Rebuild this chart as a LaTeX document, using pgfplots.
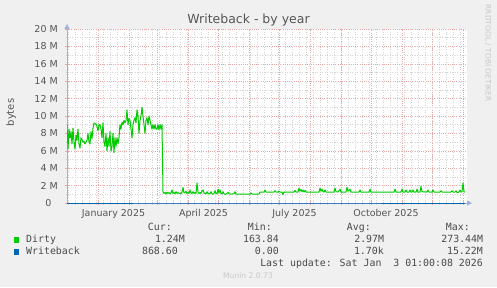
\documentclass[border=0pt]{standalone}
\usepackage{fontspec}
\setmainfont{DejaVu Sans}
\newfontfamily\mono{DejaVu Sans Mono}
\usepackage{pgfplots}
\pgfplotsset{compat=1.18}
\usetikzlibrary{arrows.meta}
\definecolor{bg}{HTML}{F0F0F0}
\definecolor{dirty}{HTML}{00CC00}
\definecolor{wb}{HTML}{0066B3}
\definecolor{mgrid}{HTML}{E8A8A8}
\definecolor{ngrid}{HTML}{D2D2D2}
\definecolor{axcol}{HTML}{A4ACE2}
\definecolor{txt}{HTML}{555555}
\definecolor{leg}{HTML}{4A4A4A}
\definecolor{faint}{HTML}{C8C8C8}
\begin{document}
\begin{tikzpicture}[x=1pt,y=1pt]
\fill[bg] (0,0) rectangle (497,287);
\path[use as bounding box] (0,0) rectangle (497,287);
\begin{axis}[
  at={(67pt,84pt)}, anchor=south west, scale only axis,
  width=400pt, height=174pt,
  xmin=-31, xmax=369, ymin=0, ymax=20,
  axis lines=left,
  axis line style={draw=axcol, line width=0.8pt, -{Triangle[length=5pt,width=5pt]}, shorten >=-5pt},
  axis background/.style={fill=white},
  xtick={0,31,59,90,120,151,181,212,243,273,304,334,365},
  xticklabels={},
  minor xtick={-30,-23,...,362},
  ytick={0,2,...,20}, minor ytick={1,3,...,19},
  yticklabels={0\kern6.5pt,2 M,4 M,6 M,8 M,10 M,12 M,14 M,16 M,18 M,20 M},
  grid=both,
  major grid style={draw=mgrid, line width=0.45pt, dash pattern=on 1pt off 1.2pt},
  minor grid style={draw=ngrid, line width=0.45pt, dash pattern=on 1pt off 1.5pt},
  tick align=center, major tick length=4pt, minor tick length=3pt,
  major tick style={draw=mgrid, line width=0.5pt},
  minor tick style={draw=ngrid, line width=0.5pt},
  ticklabel style={font=\fontsize{9.5}{11}\selectfont, text=txt},
  /pgf/number format/assume math mode=true,
  yticklabel style={anchor=east, inner sep=0pt, xshift=-7pt},
  xticklabel style={anchor=base, inner sep=0pt, yshift=-13pt},
  extra x ticks={15.5,105.5,196.5,288},
  extra x tick labels={January 2025,April 2025,July 2025,October 2025},
  extra x tick style={grid=none, major tick length=0pt},
]
\addplot[wb, line width=1pt] coordinates {(-31,0) (100,0) (200,0) (367,0)};
\addplot[dirty, line width=1pt, line join=round] coordinates {
(-31,9.0) (-30,6.2) (-29,8.5) (-28,7.5) (-27,8.2) (-26,6.8) (-25,8.6) (-24,7.0) (-23,6.2) (-22,7.8)
(-21,7.2) (-20,8.5) (-19,6.8) (-18,6.3) (-17,7.5) (-16,7.3) (-15,7.0) (-14,7.1) (-13,6.8) (-12,7.0)
(-11,7.2) (-10,8.0) (-9,7.0) (-8,6.8) (-7,8.2) (-6,7.4) (-5,8.6) (-4,9.2) (-3,9.1) (-2,9.1)
(-1,8.8) (0,8.3) (1,9.0) (2,9.0) (3,8.5) (4,7.5) (5,9.2) (6,7.0) (7,6.5) (8,8.0)
(9,6.0) (10,7.5) (11,6.5) (12,8.2) (13,6.0) (14,6.5) (15,8.0) (16,5.8) (17,7.5) (18,6.5)
(19,7.5) (20,6.8) (21,7.5) (22,9.0) (23,8.5) (24,9.3) (25,9.0) (26,9.5) (27,9.2) (28,9.5)
(29,10.7) (30,9.0) (31,9.7) (32,9.5) (33,8.5) (34,7.5) (35,9.0) (36,9.5) (37,9.8) (38,9.2)
(39,10.7) (40,10.0) (41,8.0) (42,9.5) (43,10.0) (44,11.0) (45,10.0) (46,9.0) (47,8.0) (48,9.5)
(49,9.8) (50,9.0) (51,10.0) (52,9.5) (53,9.0) (54,8.5) (55,9.0) (56,8.5) (57,9.0) (58,8.5)
(59,8.5) (60,9.0) (61,8.4) (62,9.0) (63,8.5) (64,9.0) (65,1.30)
(66,1.10) (67,1.20) (68,1.05) (69,1.25) (70,1.10) (71,1.20) (72,1.05) (73,1.15) (74,1.50) (75,1.10)
(76,1.20) (77,1.05) (78,1.30) (79,1.10) (80,1.20) (81,1.10) (82,1.15) (83,1.05) (84,1.25) (85,1.80)
(86,1.15) (87,1.20) (88,1.35) (89,1.10) (90,1.20) (91,1.10) (92,1.50) (93,1.15) (94,1.10) (95,1.30)
(96,1.10) (97,1.20) (98,1.10) (99,2.30) (100,1.25) (101,1.10) (102,1.20) (103,1.10) (104,1.40) (105,1.50)
(106,1.15) (107,1.10) (108,1.05) (109,1.30) (110,1.10) (111,1.05) (112,1.10) (113,1.30) (114,1.05) (115,1.00)
(116,1.10) (117,1.40) (118,1.10) (119,1.05) (120,1.60) (121,1.15) (122,1.50) (123,1.10) (124,1.05) (125,1.30)
(126,1.05) (127,1.00) (128,1.05) (130,1.20) (131,1.05) (133,1.03) (136,1.05) (137,1.30) (138,1.03)
(152,1.03) (153,1.15) (154,1.03) (161,1.03) (162,1.26)
(166,1.26) (167,1.50) (168,1.26) (176,1.26) (177,1.40) (178,1.26) (180,1.26) (181,1.35) (182,1.26)
(184,1.26) (185,0.95) (186,1.26) (196,1.26) (197,1.45) (198,1.26)
(200,1.26) (201,1.70) (202,1.35) (203,1.55) (204,1.30) (205,1.50) (206,1.26) (207,1.45) (208,1.26)
(221,1.26) (222,1.70) (223,1.35) (224,1.60) (225,1.30) (226,1.26) (227,1.50) (228,1.26)
(236,1.26) (237,1.70) (238,1.30) (240,1.26) (242,1.60) (243,1.26)
(248,1.26) (249,1.80) (250,1.35) (252,1.60) (253,1.26)
(261,1.26) (262,1.50) (263,1.26) (271,1.26) (272,1.60) (273,1.26)
(296,1.26) (297,1.60) (298,1.26) (303,1.26) (304,1.60) (305,1.26) (307,1.26) (308,1.50) (309,1.26)
(311,1.26) (312,1.50) (313,1.26) (314,1.26) (315,1.50) (316,1.26) (318,1.26) (319,1.60) (320,1.26)
(322,1.26) (323,1.90) (324,1.30) (329,1.26) (330,1.50) (331,1.26) (334,1.26) (335,1.50) (336,1.26)
(342,1.26) (343,1.40) (344,1.26) (353,1.26) (354,1.40) (355,1.26)
(357,1.26) (358,1.40) (359,1.20) (361,1.26) (362,1.50) (363,1.26)
(364,1.30) (365,2.30) (366,1.30) (367,1.24)
};
\end{axis}
% title and axis label
\node[text=txt, font=\fontsize{12.5}{15}\selectfont, anchor=base] at (248.5,263) {Writeback - by year};
\node[text=txt, font=\fontsize{10}{12}\selectfont, rotate=90, anchor=center] at (11,174.5) {bytes};
\node[text=faint, font=\fontsize{7.5}{9}\selectfont, rotate=-90, anchor=center] at (488,234) {RRDTOOL / TOBI OETIKER};
% legend
\fill[dirty] (14,44.3) rectangle (19.3,50.3);
\fill[wb] (14,32.3) rectangle (19.3,38.3);
\begin{scope}[every node/.style={text=leg, font=\mono\fontsize{9.9}{12}\selectfont, inner sep=0pt}]
\node[anchor=base west] at (26,44.3) {Dirty};
\node[anchor=base west] at (26,32.7) {Writeback};
\node[anchor=base east] at (172,56.3) {Cur:};
\node[anchor=base east] at (272,56.3) {Min:};
\node[anchor=base east] at (371,56.3) {Avg:};
\node[anchor=base east] at (470,56.3) {Max:};
\node[anchor=base east] at (185,44.3) {1.24M};
\node[anchor=base east] at (279,44.3) {163.84};
\node[anchor=base east] at (384.3,44.3) {2.97M};
\node[anchor=base east] at (483.3,44.3) {273.44M};
\node[anchor=base east] at (178,32.7) {868.60};
\node[anchor=base east] at (279,32.7) {0.00};
\node[anchor=base east] at (384,32.7) {1.70k};
\node[anchor=base east] at (483,32.7) {15.22M};
\node[anchor=base east] at (483,20.7) {Last update: Sat Jan~~3 01:00:08 2026};
\end{scope}
\node[text=faint, font=\fontsize{7.6}{9}\selectfont, anchor=base] at (248,9) {Munin 2.0.73};
\end{tikzpicture}
\end{document}
